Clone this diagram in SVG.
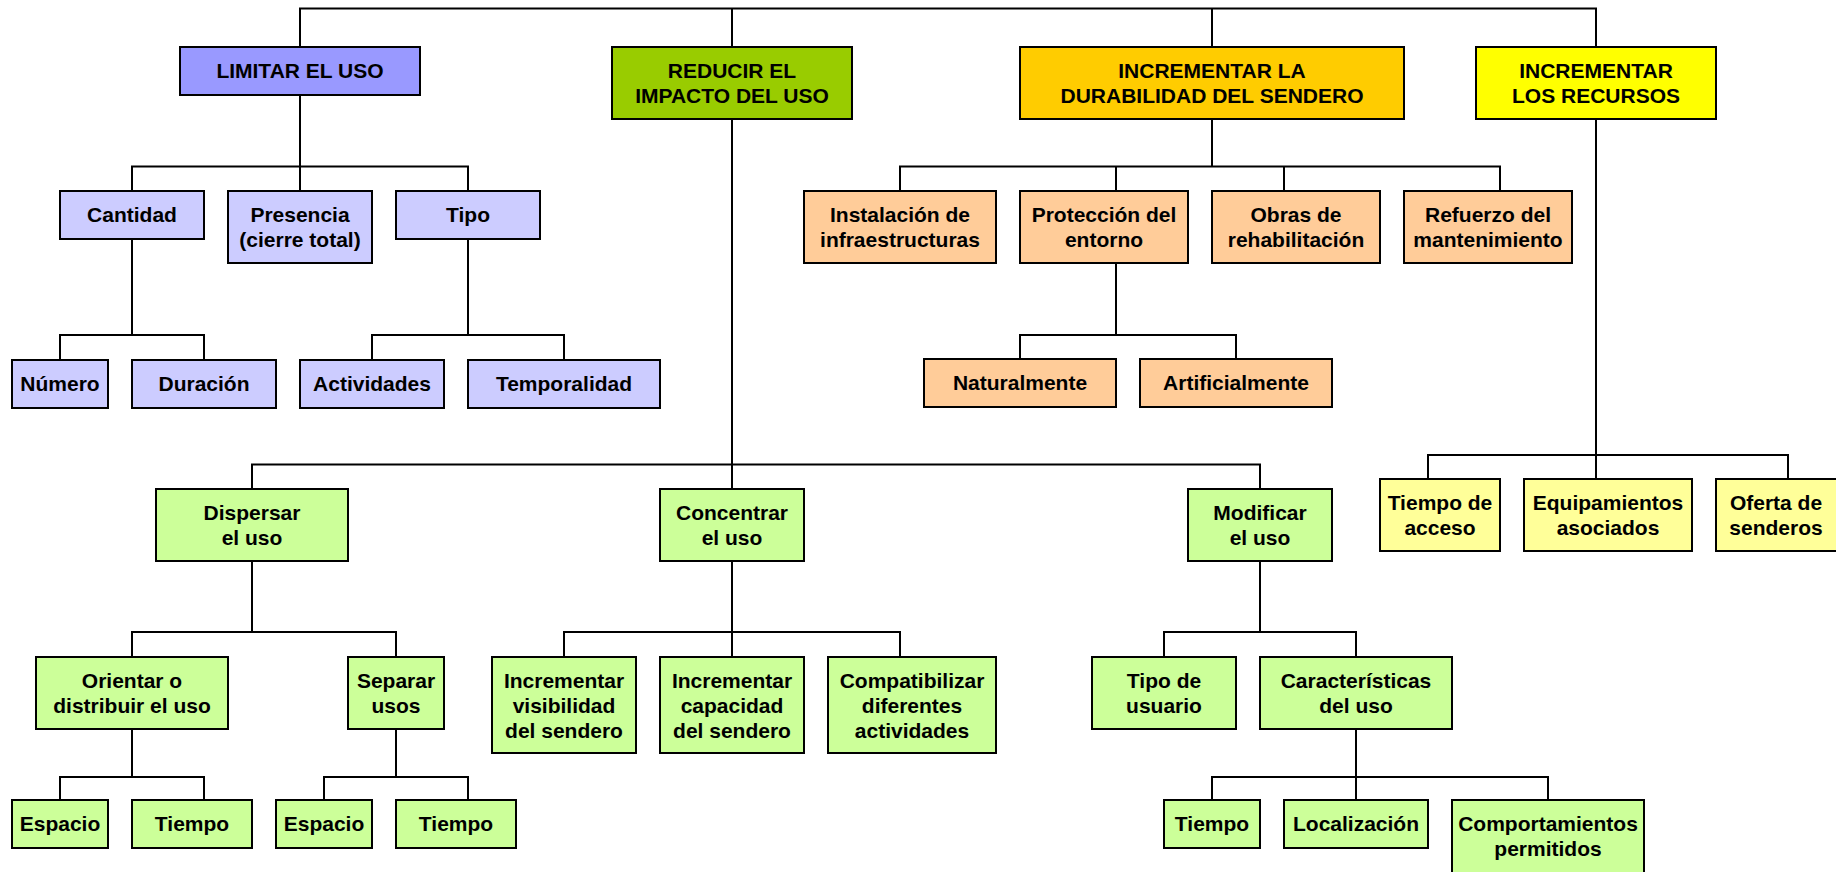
<svg xmlns="http://www.w3.org/2000/svg" width="1836" height="872" viewBox="0 0 1836 872">
  <style>
    .box { stroke: #000; stroke-width: 2; }
    .l1a { fill: #9999FF; }
    .l1b { fill: #99CC00; }
    .l1c { fill: #FFCC00; }
    .l1d { fill: #FFFF00; }
    .pa { fill: #CCCCFF; }
    .pb { fill: #CCFF99; }
    .pc { fill: #FFCC99; }
    .pd { fill: #FFFF99; }
    text { font-family: "Liberation Sans", Arial, sans-serif; font-weight: bold; font-size: 21px; fill: #000; text-anchor: middle; }
    .wire { fill: none; stroke: #000; stroke-width: 2; }
  </style>
  <rect width="1836" height="872" fill="#fff"/>

  <!-- tree connectors -->
  <g id="connectors" class="wire">
    <path d="M300,47 V8.5 H1596 V47 M732,8.5 V47 M1212,8.5 V47"/>
    <path d="M300,95 V191 M132,191 V166.5 H468 V191"/>
    <path d="M132,239 V335 M60,360 V335 H204 V360"/>
    <path d="M468,239 V335 M372,360 V335 H564 V360"/>
    <path d="M1212,119 V166.5 M900,191 V166.5 H1500 V191 M1116,166.5 V191 M1284,166.5 V191"/>
    <path d="M1116,263 V335 M1020,359 V335 H1236 V359"/>
    <path d="M1596,119 V479 M1428,479 V455 H1788 V479"/>
    <path d="M732,119 V489 M252,489 V464.5 H1260 V489"/>
    <path d="M252,561 V632 M132,657 V632 H396 V657"/>
    <path d="M132,729 V777 M60,800 V777 H204 V800"/>
    <path d="M396,729 V777 M324,800 V777 H468 V800"/>
    <path d="M732,561 V657 M564,657 V632 H900 V657"/>
    <path d="M1260,561 V632 M1164,657 V632 H1356 V657"/>
    <path d="M1356,729 V800 M1212,800 V777 H1548 V800"/>
  </g>

  <!-- top level strategies -->
  <g id="n-limitar"><rect class="box l1a" x="180" y="47" width="240" height="48"/><text x="300" y="78">LIMITAR EL USO</text></g>
  <g id="n-reducir"><rect class="box l1b" x="612" y="47" width="240" height="72"/><text x="732" y="78">REDUCIR EL</text><text x="732" y="103">IMPACTO DEL USO</text></g>
  <g id="n-durabilidad"><rect class="box l1c" x="1020" y="47" width="384" height="72"/><text x="1212" y="78">INCREMENTAR LA</text><text x="1212" y="103">DURABILIDAD DEL SENDERO</text></g>
  <g id="n-recursos"><rect class="box l1d" x="1476" y="47" width="240" height="72"/><text x="1596" y="78">INCREMENTAR</text><text x="1596" y="103">LOS RECURSOS</text></g>

  <!-- limitar el uso -->
  <g id="n-cantidad"><rect class="box pa" x="60" y="191" width="144" height="48"/><text x="132" y="222">Cantidad</text></g>
  <g id="n-presencia"><rect class="box pa" x="228" y="191" width="144" height="72"/><text x="300" y="222">Presencia</text><text x="300" y="247">(cierre total)</text></g>
  <g id="n-tipo"><rect class="box pa" x="396" y="191" width="144" height="48"/><text x="468" y="222">Tipo</text></g>
  <g id="n-numero"><rect class="box pa" x="12" y="360" width="96" height="48"/><text x="60" y="391">Número</text></g>
  <g id="n-duracion"><rect class="box pa" x="132" y="360" width="144" height="48"/><text x="204" y="391">Duración</text></g>
  <g id="n-actividades"><rect class="box pa" x="300" y="360" width="144" height="48"/><text x="372" y="391">Actividades</text></g>
  <g id="n-temporalidad"><rect class="box pa" x="468" y="360" width="192" height="48"/><text x="564" y="391">Temporalidad</text></g>

  <!-- durabilidad del sendero -->
  <g id="n-instalacion"><rect class="box pc" x="804" y="191" width="192" height="72"/><text x="900" y="222">Instalación de</text><text x="900" y="247">infraestructuras</text></g>
  <g id="n-proteccion"><rect class="box pc" x="1020" y="191" width="168" height="72"/><text x="1104" y="222">Protección del</text><text x="1104" y="247">entorno</text></g>
  <g id="n-obras"><rect class="box pc" x="1212" y="191" width="168" height="72"/><text x="1296" y="222">Obras de</text><text x="1296" y="247">rehabilitación</text></g>
  <g id="n-refuerzo"><rect class="box pc" x="1404" y="191" width="168" height="72"/><text x="1488" y="222">Refuerzo del</text><text x="1488" y="247">mantenimiento</text></g>
  <g id="n-naturalmente"><rect class="box pc" x="924" y="359" width="192" height="48"/><text x="1020" y="390">Naturalmente</text></g>
  <g id="n-artificialmente"><rect class="box pc" x="1140" y="359" width="192" height="48"/><text x="1236" y="390">Artificialmente</text></g>

  <!-- recursos -->
  <g id="n-tiempo-acceso"><rect class="box pd" x="1380" y="479" width="120" height="72"/><text x="1440" y="510">Tiempo de</text><text x="1440" y="535">acceso</text></g>
  <g id="n-equipamientos"><rect class="box pd" x="1524" y="479" width="168" height="72"/><text x="1608" y="510">Equipamientos</text><text x="1608" y="535">asociados</text></g>
  <g id="n-oferta"><rect class="box pd" x="1716" y="479" width="122" height="72"/><text x="1776" y="510">Oferta de</text><text x="1776" y="535">senderos</text></g>

  <!-- reducir el impacto del uso -->
  <g id="n-dispersar"><rect class="box pb" x="156" y="489" width="192" height="72"/><text x="252" y="520">Dispersar</text><text x="252" y="545">el uso</text></g>
  <g id="n-concentrar"><rect class="box pb" x="660" y="489" width="144" height="72"/><text x="732" y="520">Concentrar</text><text x="732" y="545">el uso</text></g>
  <g id="n-modificar"><rect class="box pb" x="1188" y="489" width="144" height="72"/><text x="1260" y="520">Modificar</text><text x="1260" y="545">el uso</text></g>

  <g id="n-orientar"><rect class="box pb" x="36" y="657" width="192" height="72"/><text x="132" y="688">Orientar o</text><text x="132" y="713">distribuir el uso</text></g>
  <g id="n-separar"><rect class="box pb" x="348" y="657" width="96" height="72"/><text x="396" y="688">Separar</text><text x="396" y="713">usos</text></g>
  <g id="n-visibilidad"><rect class="box pb" x="492" y="657" width="144" height="96"/><text x="564" y="688">Incrementar</text><text x="564" y="713">visibilidad</text><text x="564" y="738">del sendero</text></g>
  <g id="n-capacidad"><rect class="box pb" x="660" y="657" width="144" height="96"/><text x="732" y="688">Incrementar</text><text x="732" y="713">capacidad</text><text x="732" y="738">del sendero</text></g>
  <g id="n-compatibilizar"><rect class="box pb" x="828" y="657" width="168" height="96"/><text x="912" y="688">Compatibilizar</text><text x="912" y="713">diferentes</text><text x="912" y="738">actividades</text></g>
  <g id="n-tipo-usuario"><rect class="box pb" x="1092" y="657" width="144" height="72"/><text x="1164" y="688">Tipo de</text><text x="1164" y="713">usuario</text></g>
  <g id="n-caracteristicas"><rect class="box pb" x="1260" y="657" width="192" height="72"/><text x="1356" y="688">Características</text><text x="1356" y="713">del uso</text></g>

  <g id="n-espacio-1"><rect class="box pb" x="12" y="800" width="96" height="48"/><text x="60" y="831">Espacio</text></g>
  <g id="n-tiempo-1"><rect class="box pb" x="132" y="800" width="120" height="48"/><text x="192" y="831">Tiempo</text></g>
  <g id="n-espacio-2"><rect class="box pb" x="276" y="800" width="96" height="48"/><text x="324" y="831">Espacio</text></g>
  <g id="n-tiempo-2"><rect class="box pb" x="396" y="800" width="120" height="48"/><text x="456" y="831">Tiempo</text></g>
  <g id="n-tiempo-3"><rect class="box pb" x="1164" y="800" width="96" height="48"/><text x="1212" y="831">Tiempo</text></g>
  <g id="n-localizacion"><rect class="box pb" x="1284" y="800" width="144" height="48"/><text x="1356" y="831">Localización</text></g>
  <g id="n-comportamientos"><rect class="box pb" x="1452" y="800" width="192" height="74"/><text x="1548" y="831">Comportamientos</text><text x="1548" y="856">permitidos</text></g>
</svg>
